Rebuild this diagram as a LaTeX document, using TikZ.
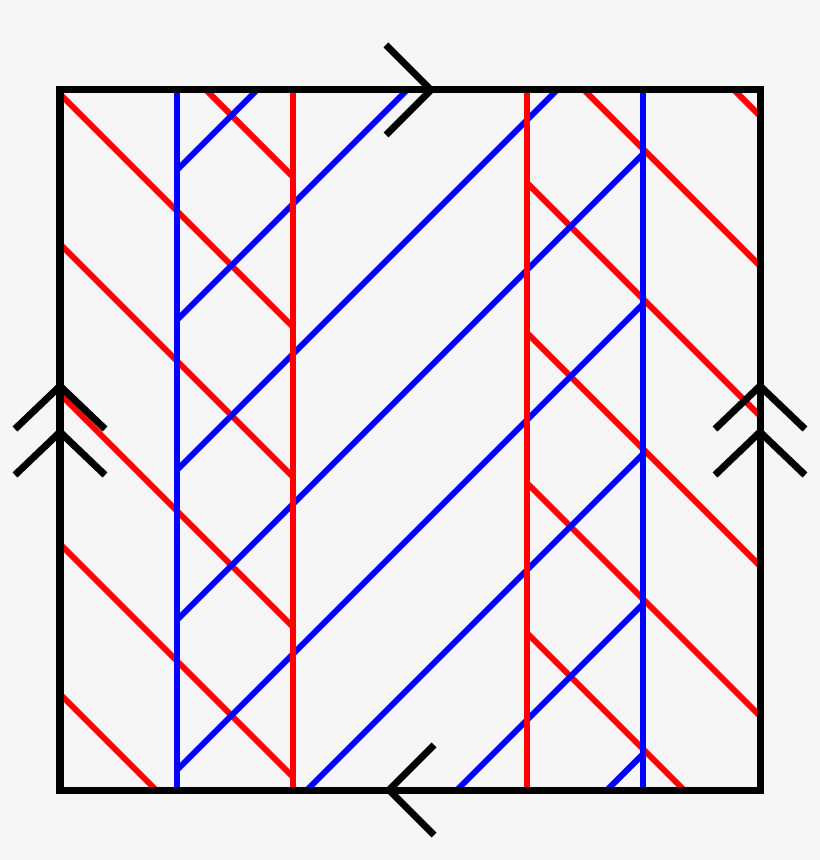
\documentclass[tikz,border=0pt]{standalone}
\usepackage{tikz}

\definecolor{bgcol}{RGB}{246,246,246}

\begin{document}
\begin{tikzpicture}[
    frame/.style={line width=0.07cm, black},
    redline/.style={line width=0.06cm, red},
    blueline/.style={line width=0.06cm, blue},
    chevron/.style={line width=0.07cm, black, miter limit=10}
  ]
    % Background, also fixes the margins
    \fill[bgcol] (-0.6, -0.7) rectangle (7.6, 7.9);
    \useasboundingbox (-0.6, -0.7) rectangle (7.6, 7.9);

    % Corners of the square
    \coordinate (sw) at (0, 0);
    \coordinate (ne) at (7, 7);

    % Lines inside the square
    \begin{scope}
        \clip (sw) rectangle (ne); % Keep the lines inside the square
        % Red lines going down, left strip
        \foreach \r in {0.96, 2.46, 3.96, 5.46, 6.96, 8.46}
            \draw[redline] (0, \r) -- (7/3, \r-7/3);
        % Red lines going down, right strip
        \foreach \r in {6.24, 7.74, 9.24, 10.74, 12.24, 13.74}
            \draw[redline] (14/3, \r-14/3) -- (7, \r-7);
        % Blue lines going up
        \foreach \b in {-5.47, -3.97, -2.47, -0.97, 0.53, 2.03, 3.53, 5.03}
            \draw[blueline] (7/6, 7/6+\b) -- (35/6, 35/6+\b);
        % Vertical lines
        \draw[redline] (7/3, 0) -- (7/3, 7);
        \draw[redline] (14/3, 0) -- (14/3, 7);
        \draw[blueline] (7/6, 0) -- (7/6, 7);
        \draw[blueline] (35/6, 0) -- (35/6, 7);
    \end{scope}

    % The square
    \draw[frame] (sw) rectangle (ne);

    % Marks on the top and bottom edges
    \draw[chevron] (3.26, 7.45) -- (3.71, 7) -- (3.26, 6.55);
    \draw[chevron] (3.74, 0.45) -- (3.29, 0) -- (3.74, -0.45);

    % Double marks on the left and right edges
    \foreach \x in {0, 7} {
        \draw[chevron] (\x-0.45, 3.61) -- (\x, 4.04) -- (\x+0.45, 3.61);
        \draw[chevron] (\x-0.45, 3.15) -- (\x, 3.58) -- (\x+0.45, 3.15);
    }
\end{tikzpicture}
\end{document}
